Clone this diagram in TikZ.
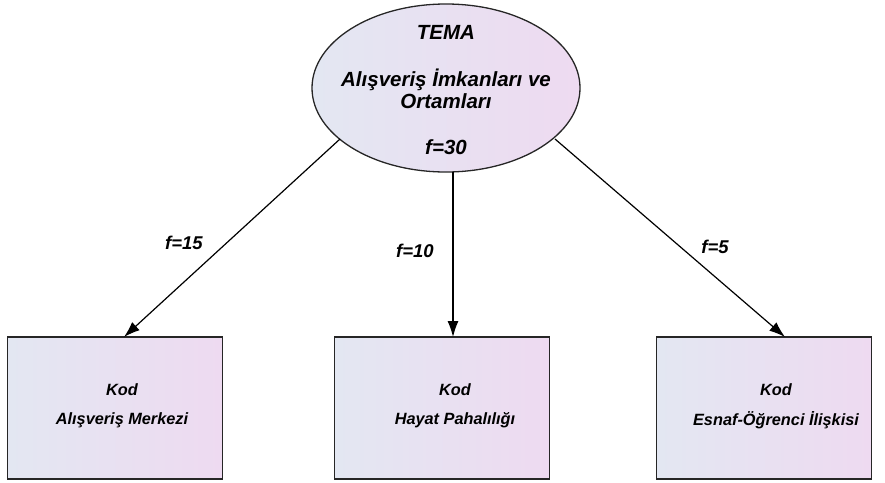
\documentclass[tikz,border=0pt]{standalone}
\usepackage{fontspec}
\setmainfont{Liberation Sans}
\usetikzlibrary{shapes.geometric,arrows.meta}
\definecolor{fillL}{HTML}{E3E7F2}
\definecolor{fillR}{HTML}{EEDAF1}
\definecolor{edge}{HTML}{262626}
\tikzset{
  shade/.style={left color=fillL,right color=fillR,draw=edge,line width=1.3pt},
  ellnode/.style={shade,ellipse,minimum width=268pt,minimum height=168pt,inner sep=0pt},
  kodbox/.style={shade,rectangle,minimum width=215pt,minimum height=142pt,inner sep=0pt},
  bigtxt/.style={font=\fontsize{20.5}{24}\selectfont\bfseries\itshape,inner sep=0pt},
  boxtxt/.style={font=\fontsize{16.3}{19}\selectfont\bfseries\itshape,inner sep=0pt},
  flab/.style={font=\fontsize{18.5}{22}\selectfont\bfseries\itshape,inner sep=0pt},
  conn/.style={draw=black,line width=1.2pt,-{Latex[length=16pt,width=11pt]}}
}
\begin{document}
\begin{tikzpicture}[x=1pt,y=-1pt]
\useasboundingbox (0,0) rectangle (885,482);
\node[ellnode] (tema) at (446,88) {};
\node[bigtxt] (t1) at (446,32) {TEMA};
\node[bigtxt] (t2) at (446,80) {Alışveriş İmkanları ve};
\node[bigtxt] (t3) at (446,101) {Ortamları};
\node[bigtxt] (t4) at (446,147) {f=30};

\node[kodbox] (b1) at (115,408) {};
\node[kodbox] (b2) at (442,408) {};
\node[kodbox] (b3) at (764,408) {};

\node[boxtxt] (k1) at (122,390) {Kod};
\node[boxtxt] (m1) at (122,420) {Alışveriş Merkezi};
\node[boxtxt] (k2) at (455,390) {Kod};
\node[boxtxt] (m2) at (455,420) {Hayat Pahalılığı};
\node[boxtxt] (k3) at (776,390) {Kod};
\node[boxtxt] (m3) at (776,420) {Esnaf-Öğrenci İlişkisi};

\coordinate (e1) at (340,139);
\coordinate (e2) at (453,172);
\coordinate (e3) at (555,139);
\coordinate (d1) at (124,337);
\coordinate (d2) at (453,337);
\coordinate (d3) at (785,337);
\draw[conn] (e1) -- (d1);
\draw[conn] (e2) -- (d2);
\draw[conn] (e3) -- (d3);

\node[flab] (f1) at (184,243) {f=15};
\node[flab] (f2) at (415,251) {f=10};
\node[flab] (f3) at (715,247) {f=5};
\end{tikzpicture}
\end{document}
